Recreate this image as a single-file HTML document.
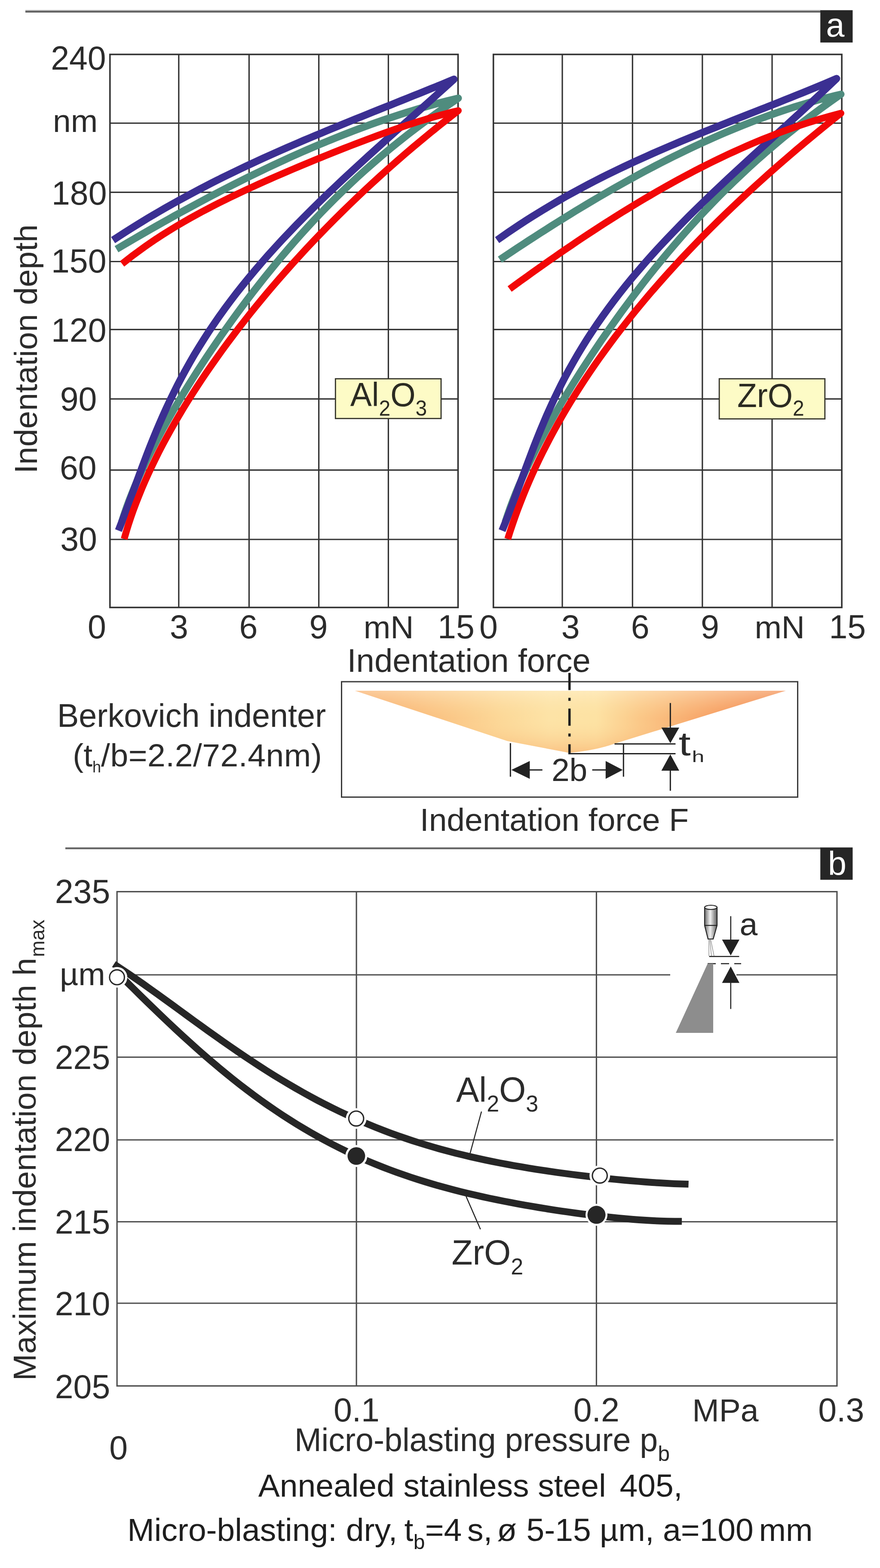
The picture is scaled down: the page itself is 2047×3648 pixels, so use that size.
<!DOCTYPE html>
<html><head><meta charset="utf-8"><title>Figure</title>
<style>html,body{margin:0;padding:0;background:#fff;width:2047px;height:3648px;overflow:hidden}</style>
</head><body>
<svg xmlns="http://www.w3.org/2000/svg" width="2047" height="3648" viewBox="0 0 2047 3648" style="display:block">
<rect width="2047" height="3648" fill="#fff"/>
<rect x="59" y="23.4" width="1850" height="2.8" fill="#9c9c9c"/><rect x="59" y="26.2" width="1850" height="2.8" fill="#474747"/>
<rect x="1908.2" y="23.7" width="75.2" height="75.2" fill="#262626"/>
<text x="1921.6" y="84.5" fill="#fff" style="font-family:'Liberation Sans',Arial,sans-serif;font-size:77px">a</text>
<g stroke="#333" stroke-width="3.2" fill="none"><line x1="415.8" y1="126.6" x2="415.8" y2="1413.3"/><line x1="579.4" y1="126.6" x2="579.4" y2="1413.3"/><line x1="741.6" y1="126.6" x2="741.6" y2="1413.3"/><line x1="903.4" y1="126.6" x2="903.4" y2="1413.3"/><line x1="255.8" y1="286.5" x2="1065.5" y2="286.5"/><line x1="255.8" y1="447.4" x2="1065.5" y2="447.4"/><line x1="255.8" y1="608.5" x2="1065.5" y2="608.5"/><line x1="255.8" y1="766.6" x2="1065.5" y2="766.6"/><line x1="255.8" y1="928.1" x2="1065.5" y2="928.1"/><line x1="255.8" y1="1093.7" x2="1065.5" y2="1093.7"/><line x1="255.8" y1="1255" x2="1065.5" y2="1255"/><rect x="255.8" y="126.6" width="809.7" height="1286.7" fill="none" stroke-width="3.6"/></g>
<g stroke="#333" stroke-width="3.2" fill="none"><line x1="1308" y1="126.6" x2="1308" y2="1413.3"/><line x1="1471.3" y1="126.6" x2="1471.3" y2="1413.3"/><line x1="1633.8" y1="126.6" x2="1633.8" y2="1413.3"/><line x1="1796" y1="126.6" x2="1796" y2="1413.3"/><line x1="1147.7" y1="286.5" x2="1958.1" y2="286.5"/><line x1="1147.7" y1="447.4" x2="1958.1" y2="447.4"/><line x1="1147.7" y1="608.5" x2="1958.1" y2="608.5"/><line x1="1147.7" y1="766.6" x2="1958.1" y2="766.6"/><line x1="1147.7" y1="928.1" x2="1958.1" y2="928.1"/><line x1="1147.7" y1="1093.7" x2="1958.1" y2="1093.7"/><line x1="1147.7" y1="1255" x2="1958.1" y2="1255"/><rect x="1147.7" y="126.6" width="810.4" height="1286.7" fill="none" stroke-width="3.6"/></g>
<path d="M283.0,1215.0 L288.4,1198.3 L294.2,1181.6 L300.3,1164.8 L306.9,1148.1 L313.7,1131.4 L320.9,1114.7 L328.4,1098.0 L336.2,1081.2 L344.2,1064.5 L352.6,1047.8 L361.2,1031.1 L370.0,1014.4 L379.0,997.6 L388.3,980.9 L397.8,964.2 L407.5,947.5 L417.4,930.8 L427.5,914.0 L437.8,897.3 L448.3,880.6 L458.9,863.9 L469.8,847.2 L480.8,830.4 L492.0,813.7 L503.4,797.0 L514.9,780.3 L526.7,763.6 L538.6,746.8 L550.8,730.1 L563.1,713.4 L575.6,696.7 L588.4,679.9 L601.4,663.2 L614.6,646.5 L628.1,629.8 L641.8,613.1 L655.7,596.3 L670.0,579.6 L684.5,562.9 L699.4,546.2 L714.5,529.5 L730.0,512.7 L745.9,496.0 L762.1,479.3 L778.8,462.6 L795.8,445.9 L813.3,429.1 L831.2,412.4 L849.6,395.7 L868.6,379.0 L888.0,362.3 L908.0,345.5 L928.6,328.8 L949.8,312.1 L971.6,295.4 L994.2,278.7 L1017.4,261.9 L1041.3,245.2 L1066.0,228.5 L1052.5,231.8 L1039.1,235.1 L1025.6,238.6 L1012.1,242.2 L998.6,246.0 L985.2,249.8 L971.7,253.7 L958.2,257.8 L944.7,261.9 L931.3,266.2 L917.8,270.6 L904.3,275.1 L890.8,279.6 L877.4,284.3 L863.9,289.1 L850.4,294.0 L836.9,299.0 L823.5,304.0 L810.0,309.2 L796.5,314.5 L783.0,319.8 L769.6,325.3 L756.1,330.8 L742.6,336.4 L729.1,342.1 L715.7,347.9 L702.2,353.8 L688.7,359.8 L675.2,365.8 L661.8,372.0 L648.3,378.2 L634.8,384.5 L621.3,390.9 L607.9,397.3 L594.4,403.8 L580.9,410.4 L567.4,417.1 L554.0,423.8 L540.5,430.6 L527.0,437.5 L513.5,444.5 L500.1,451.5 L486.6,458.6 L473.1,465.7 L459.6,472.9 L446.2,480.2 L432.7,487.5 L419.2,494.9 L405.7,502.3 L392.3,509.8 L378.8,517.4 L365.3,525.0 L351.8,532.7 L338.4,540.4 L324.9,548.2 L311.4,556.0 L297.9,563.8 L284.5,571.7 L271.0,579.7" fill="none" stroke="#4f8c7e" stroke-width="17" stroke-linejoin="round" stroke-linecap="butt"/>
<path d="M275.6,1234.4 L282.5,1216.6 L289.3,1198.8 L296.0,1181.0 L302.5,1163.2 L309.1,1145.4 L315.6,1127.6 L322.1,1109.8 L328.7,1092.0 L335.4,1074.2 L342.2,1056.4 L349.1,1038.6 L356.3,1020.8 L363.6,1003.0 L371.1,985.2 L378.9,967.5 L386.9,949.7 L395.3,931.9 L403.9,914.1 L412.8,896.3 L422.1,878.5 L431.8,860.7 L441.8,842.9 L452.1,825.1 L462.9,807.3 L474.1,789.5 L485.6,771.7 L497.6,753.9 L509.9,736.1 L522.7,718.3 L535.9,700.5 L549.5,682.7 L563.6,664.9 L578.0,647.1 L592.9,629.3 L608.1,611.5 L623.7,593.7 L639.8,575.9 L656.2,558.1 L673.0,540.3 L690.1,522.5 L707.6,504.7 L725.3,486.9 L743.5,469.1 L761.8,451.3 L780.5,433.6 L799.4,415.8 L818.6,398.0 L837.9,380.2 L857.4,362.4 L877.1,344.6 L896.9,326.8 L916.8,309.0 L936.8,291.2 L956.8,273.4 L976.8,255.6 L996.7,237.8 L1016.6,220.0 L1036.4,202.2 L1056.0,184.4 L1042.6,189.9 L1029.1,195.5 L1015.7,201.0 L1002.2,206.4 L988.8,211.9 L975.4,217.3 L961.9,222.7 L948.5,228.1 L935.0,233.5 L921.6,238.9 L908.2,244.3 L894.7,249.7 L881.3,255.0 L867.8,260.4 L854.4,265.8 L840.9,271.3 L827.5,276.7 L814.1,282.1 L800.6,287.6 L787.2,293.1 L773.7,298.6 L760.3,304.2 L746.9,309.8 L733.4,315.4 L720.0,321.0 L706.5,326.7 L693.1,332.5 L679.7,338.3 L666.2,344.1 L652.8,350.0 L639.3,356.0 L625.9,362.0 L612.5,368.1 L599.0,374.2 L585.6,380.5 L572.1,386.8 L558.7,393.1 L545.3,399.6 L531.8,406.1 L518.4,412.7 L504.9,419.4 L491.5,426.2 L478.1,433.1 L464.6,440.1 L451.2,447.2 L437.7,454.4 L424.3,461.7 L410.8,469.1 L397.4,476.6 L384.0,484.2 L370.5,492.0 L357.1,499.8 L343.6,507.8 L330.2,516.0 L316.8,524.2 L303.3,532.6 L289.9,541.1 L276.4,549.8 L263.0,558.6" fill="none" stroke="#3b2f92" stroke-width="17" stroke-linejoin="round" stroke-linecap="butt"/>
<path d="M288.8,1254.0 L293.7,1237.1 L298.9,1220.2 L304.5,1203.3 L310.4,1186.4 L316.7,1169.6 L323.4,1152.7 L330.3,1135.8 L337.6,1118.9 L345.2,1102.0 L353.1,1085.1 L361.3,1068.2 L369.7,1051.3 L378.5,1034.4 L387.6,1017.5 L396.9,1000.7 L406.5,983.8 L416.4,966.9 L426.5,950.0 L436.9,933.1 L447.6,916.2 L458.5,899.3 L469.7,882.4 L481.1,865.5 L492.8,848.6 L504.7,831.8 L516.8,814.9 L529.2,798.0 L541.9,781.1 L554.7,764.2 L567.9,747.3 L581.2,730.4 L594.8,713.5 L608.7,696.6 L622.8,679.7 L637.1,662.9 L651.7,646.0 L666.6,629.1 L681.7,612.2 L697.0,595.3 L712.6,578.4 L728.5,561.5 L744.7,544.6 L761.1,527.7 L777.8,510.8 L794.8,494.0 L812.1,477.1 L829.6,460.2 L847.5,443.3 L865.7,426.4 L884.2,409.5 L903.0,392.6 L922.1,375.7 L941.6,358.8 L961.4,341.9 L981.6,325.1 L1002.1,308.2 L1023.0,291.3 L1044.3,274.4 L1066.0,257.5 L1052.7,260.6 L1039.5,263.9 L1026.2,267.4 L1013.0,271.0 L999.7,274.8 L986.5,278.8 L973.2,282.9 L960.0,287.1 L946.7,291.4 L933.5,295.9 L920.2,300.4 L906.9,305.0 L893.7,309.8 L880.4,314.6 L867.2,319.5 L853.9,324.4 L840.7,329.4 L827.4,334.5 L814.2,339.6 L800.9,344.8 L787.7,350.0 L774.4,355.3 L761.2,360.6 L747.9,366.0 L734.6,371.4 L721.4,376.8 L708.1,382.3 L694.9,387.9 L681.6,393.5 L668.4,399.1 L655.1,404.8 L641.9,410.5 L628.6,416.3 L615.4,422.2 L602.1,428.1 L588.8,434.2 L575.6,440.2 L562.3,446.4 L549.1,452.7 L535.8,459.1 L522.6,465.6 L509.3,472.2 L496.1,478.9 L482.8,485.8 L469.6,492.8 L456.3,500.0 L443.1,507.3 L429.8,514.9 L416.5,522.6 L403.3,530.5 L390.0,538.7 L376.8,547.1 L363.5,555.7 L350.3,564.7 L337.0,573.9 L323.8,583.4 L310.5,593.2 L297.3,603.4 L284.0,613.9" fill="none" stroke="#f20707" stroke-width="16" stroke-linejoin="round" stroke-linecap="butt"/>
<path d="M1175.3,1215.0 L1180.9,1198.1 L1186.8,1181.3 L1193.1,1164.4 L1199.8,1147.5 L1206.8,1130.6 L1214.1,1113.8 L1221.7,1096.9 L1229.6,1080.0 L1237.8,1063.1 L1246.2,1046.3 L1254.8,1029.4 L1263.8,1012.5 L1272.9,995.6 L1282.3,978.8 L1291.8,961.9 L1301.6,945.0 L1311.6,928.1 L1321.7,911.3 L1332.1,894.4 L1342.7,877.5 L1353.4,860.6 L1364.3,843.8 L1375.4,826.9 L1386.7,810.0 L1398.1,793.1 L1409.7,776.3 L1421.6,759.4 L1433.6,742.5 L1445.8,725.6 L1458.2,708.8 L1470.8,691.9 L1483.6,675.0 L1496.6,658.1 L1509.8,641.3 L1523.3,624.4 L1537.1,607.5 L1551.0,590.6 L1565.3,573.8 L1579.8,556.9 L1594.6,540.0 L1609.8,523.1 L1625.2,506.3 L1641.0,489.4 L1657.2,472.5 L1673.7,455.6 L1690.6,438.8 L1707.9,421.9 L1725.7,405.0 L1743.9,388.1 L1762.5,371.3 L1781.7,354.4 L1801.4,337.5 L1821.6,320.6 L1842.5,303.8 L1863.9,286.9 L1885.9,270.0 L1908.6,253.1 L1931.9,236.3 L1956.0,219.4 L1942.6,222.6 L1929.1,225.9 L1915.7,229.3 L1902.2,232.9 L1888.8,236.7 L1875.3,240.6 L1861.9,244.6 L1848.4,248.7 L1835.0,253.0 L1821.6,257.4 L1808.1,262.0 L1794.7,266.6 L1781.2,271.4 L1767.8,276.4 L1754.3,281.4 L1740.9,286.6 L1727.5,291.9 L1714.0,297.3 L1700.6,302.8 L1687.1,308.5 L1673.7,314.3 L1660.2,320.2 L1646.8,326.2 L1633.3,332.3 L1619.9,338.5 L1606.5,344.8 L1593.0,351.2 L1579.6,357.8 L1566.1,364.4 L1552.7,371.2 L1539.2,378.0 L1525.8,384.9 L1512.3,392.0 L1498.9,399.1 L1485.5,406.3 L1472.0,413.7 L1458.6,421.1 L1445.1,428.6 L1431.7,436.2 L1418.2,443.9 L1404.8,451.6 L1391.3,459.5 L1377.9,467.4 L1364.5,475.4 L1351.0,483.5 L1337.6,491.6 L1324.1,499.9 L1310.7,508.2 L1297.2,516.6 L1283.8,525.0 L1270.4,533.6 L1256.9,542.2 L1243.5,550.8 L1230.0,559.5 L1216.6,568.3 L1203.1,577.2 L1189.7,586.1 L1176.2,595.1 L1162.8,604.1" fill="none" stroke="#4f8c7e" stroke-width="17" stroke-linejoin="round" stroke-linecap="butt"/>
<path d="M1167.9,1234.4 L1175.2,1216.6 L1182.2,1198.8 L1189.1,1180.9 L1195.8,1163.1 L1202.4,1145.3 L1208.9,1127.5 L1215.5,1109.6 L1222.0,1091.8 L1228.7,1074.0 L1235.4,1056.2 L1242.2,1038.3 L1249.2,1020.5 L1256.4,1002.7 L1263.8,984.9 L1271.4,967.0 L1279.4,949.2 L1287.6,931.4 L1296.1,913.6 L1304.9,895.7 L1314.1,877.9 L1323.7,860.1 L1333.7,842.3 L1344.0,824.5 L1354.8,806.6 L1365.9,788.8 L1377.5,771.0 L1389.5,753.2 L1402.0,735.3 L1414.9,717.5 L1428.2,699.7 L1441.9,681.9 L1456.1,664.0 L1470.7,646.2 L1485.8,628.4 L1501.2,610.6 L1517.1,592.7 L1533.3,574.9 L1550.0,557.1 L1567.0,539.3 L1584.3,521.5 L1602.0,503.6 L1620.0,485.8 L1638.2,468.0 L1656.8,450.2 L1675.6,432.3 L1694.6,414.5 L1713.8,396.7 L1733.1,378.9 L1752.6,361.0 L1772.2,343.2 L1791.8,325.4 L1811.4,307.6 L1831.0,289.7 L1850.6,271.9 L1870.1,254.1 L1889.4,236.3 L1908.5,218.4 L1927.4,200.6 L1946.0,182.8 L1932.6,188.5 L1919.2,194.2 L1905.8,199.8 L1892.5,205.3 L1879.1,210.8 L1865.7,216.3 L1852.3,221.7 L1838.9,227.1 L1825.5,232.4 L1812.2,237.8 L1798.8,243.1 L1785.4,248.4 L1772.0,253.7 L1758.6,258.9 L1745.2,264.2 L1731.8,269.5 L1718.5,274.7 L1705.1,280.0 L1691.7,285.3 L1678.3,290.6 L1664.9,296.0 L1651.5,301.3 L1638.2,306.7 L1624.8,312.2 L1611.4,317.6 L1598.0,323.1 L1584.6,328.7 L1571.2,334.3 L1557.8,340.0 L1544.5,345.7 L1531.1,351.5 L1517.7,357.4 L1504.3,363.4 L1490.9,369.4 L1477.5,375.5 L1464.1,381.7 L1450.8,388.0 L1437.4,394.4 L1424.0,400.9 L1410.6,407.4 L1397.2,414.2 L1383.8,421.0 L1370.5,427.9 L1357.1,435.0 L1343.7,442.2 L1330.3,449.5 L1316.9,456.9 L1303.5,464.5 L1290.1,472.3 L1276.8,480.2 L1263.4,488.2 L1250.0,496.4 L1236.6,504.8 L1223.2,513.3 L1209.8,522.0 L1196.5,530.9 L1183.1,539.9 L1169.7,549.2 L1156.3,558.6" fill="none" stroke="#3b2f92" stroke-width="17" stroke-linejoin="round" stroke-linecap="butt"/>
<path d="M1181.1,1254.0 L1186.4,1237.2 L1192.0,1220.4 L1197.8,1203.6 L1203.9,1186.8 L1210.3,1170.1 L1216.9,1153.3 L1223.8,1136.5 L1231.0,1119.7 L1238.4,1102.9 L1246.1,1086.1 L1254.0,1069.3 L1262.3,1052.5 L1270.8,1035.8 L1279.5,1019.0 L1288.6,1002.2 L1297.9,985.4 L1307.4,968.6 L1317.3,951.8 L1327.4,935.0 L1337.8,918.2 L1348.5,901.4 L1359.4,884.7 L1370.6,867.9 L1382.1,851.1 L1393.8,834.3 L1405.9,817.5 L1418.2,800.7 L1430.7,783.9 L1443.6,767.1 L1456.7,750.4 L1470.1,733.6 L1483.8,716.8 L1497.7,700.0 L1511.9,683.2 L1526.4,666.4 L1541.2,649.6 L1556.2,632.8 L1571.5,616.1 L1587.1,599.3 L1603.0,582.5 L1619.1,565.7 L1635.5,548.9 L1652.2,532.1 L1669.2,515.3 L1686.4,498.5 L1703.9,481.7 L1721.6,465.0 L1739.7,448.2 L1758.0,431.4 L1776.6,414.6 L1795.4,397.8 L1814.6,381.0 L1834.0,364.2 L1853.6,347.4 L1873.6,330.7 L1893.8,313.9 L1914.2,297.1 L1935.0,280.3 L1956.0,263.5 L1942.9,266.9 L1929.9,270.4 L1916.8,274.1 L1903.8,278.0 L1890.7,282.0 L1877.6,286.1 L1864.6,290.4 L1851.5,294.8 L1838.5,299.4 L1825.4,304.1 L1812.3,309.0 L1799.3,314.0 L1786.2,319.1 L1773.2,324.3 L1760.1,329.7 L1747.1,335.2 L1734.0,340.9 L1720.9,346.7 L1707.9,352.6 L1694.8,358.6 L1681.8,364.7 L1668.7,371.0 L1655.6,377.4 L1642.6,383.9 L1629.5,390.5 L1616.5,397.2 L1603.4,404.1 L1590.3,411.0 L1577.3,418.1 L1564.2,425.3 L1551.2,432.5 L1538.1,439.9 L1525.0,447.4 L1512.0,455.0 L1498.9,462.7 L1485.9,470.4 L1472.8,478.3 L1459.7,486.3 L1446.7,494.3 L1433.6,502.5 L1420.6,510.7 L1407.5,519.1 L1394.4,527.5 L1381.4,536.0 L1368.3,544.5 L1355.3,553.2 L1342.2,561.9 L1329.2,570.8 L1316.1,579.7 L1303.0,588.6 L1290.0,597.7 L1276.9,606.8 L1263.9,616.0 L1250.8,625.2 L1237.7,634.5 L1224.7,643.9 L1211.6,653.3 L1198.6,662.8 L1185.5,672.4" fill="none" stroke="#f20707" stroke-width="16" stroke-linejoin="round" stroke-linecap="butt"/>
<rect x="780.3" y="881.2" width="245.7" height="92.5" fill="#fdfbc6" stroke="#34342a" stroke-width="2.8"/>
<text x="814.8" y="944.7" transform="matrix(1 0 0 1.03 0 -28.34)" fill="#2b2b22" style="font-family:'Liberation Sans',Arial,sans-serif;font-size:75px">Al<tspan dy="21.5" style="font-size:48px">2</tspan><tspan dy="-21.5">O</tspan><tspan dy="21.5" style="font-size:48px">3</tspan></text>
<rect x="1673.1" y="881.2" width="245.7" height="93.4" fill="#fdfbc6" stroke="#34342a" stroke-width="2.8"/>
<text x="1715.0" y="946.6" transform="matrix(1 0 0 1.03 0 -28.40)" fill="#2b2b22" style="font-family:'Liberation Sans',Arial,sans-serif;font-size:75px">ZrO<tspan dy="20" style="font-size:48px">2</tspan></text>
<text x="118.2" y="161.5" fill="#2b2b2b" style="font-family:'Liberation Sans',Arial,sans-serif;font-size:77px">240</text>
<text x="120.0" y="476.0" fill="#2b2b2b" style="font-family:'Liberation Sans',Arial,sans-serif;font-size:77px">180</text>
<text x="119.0" y="633.5" fill="#2b2b2b" style="font-family:'Liberation Sans',Arial,sans-serif;font-size:77px">150</text>
<text x="119.0" y="794.5" fill="#2b2b2b" style="font-family:'Liberation Sans',Arial,sans-serif;font-size:77px">120</text>
<text x="139.7" y="955.3" fill="#2b2b2b" style="font-family:'Liberation Sans',Arial,sans-serif;font-size:77px">90</text>
<text x="138.9" y="1114.5" fill="#2b2b2b" style="font-family:'Liberation Sans',Arial,sans-serif;font-size:77px">60</text>
<text x="140.2" y="1280.5" fill="#2b2b2b" style="font-family:'Liberation Sans',Arial,sans-serif;font-size:77px">30</text>
<text x="123.1" y="306.5" fill="#2b2b2b" style="font-family:'Liberation Sans',Arial,sans-serif;font-size:75px">nm</text>
<text transform="translate(85.6,1101.8) rotate(-90)" fill="#2b2b2b" style="font-family:'Liberation Sans',Arial,sans-serif;font-size:75px">Indentation depth</text>
<text x="204.0" y="1485.0" fill="#2b2b2b" style="font-family:'Liberation Sans',Arial,sans-serif;font-size:77px">0</text>
<text x="395.0" y="1485.0" fill="#2b2b2b" style="font-family:'Liberation Sans',Arial,sans-serif;font-size:77px">3</text>
<text x="556.5" y="1485.0" fill="#2b2b2b" style="font-family:'Liberation Sans',Arial,sans-serif;font-size:77px">6</text>
<text x="719.5" y="1485.0" fill="#2b2b2b" style="font-family:'Liberation Sans',Arial,sans-serif;font-size:77px">9</text>
<text x="845.8" y="1485.0" fill="#2b2b2b" style="font-family:'Liberation Sans',Arial,sans-serif;font-size:75px">mN</text>
<text x="1018.1" y="1485.0" fill="#2b2b2b" style="font-family:'Liberation Sans',Arial,sans-serif;font-size:77px">15</text>
<text x="1115.1" y="1485.0" fill="#2b2b2b" style="font-family:'Liberation Sans',Arial,sans-serif;font-size:77px">0</text>
<text x="1305.8" y="1485.0" fill="#2b2b2b" style="font-family:'Liberation Sans',Arial,sans-serif;font-size:77px">3</text>
<text x="1467.7" y="1485.0" fill="#2b2b2b" style="font-family:'Liberation Sans',Arial,sans-serif;font-size:77px">6</text>
<text x="1630.1" y="1485.0" fill="#2b2b2b" style="font-family:'Liberation Sans',Arial,sans-serif;font-size:77px">9</text>
<text x="1755.4" y="1485.0" fill="#2b2b2b" style="font-family:'Liberation Sans',Arial,sans-serif;font-size:75px">mN</text>
<text x="1928.5" y="1485.0" fill="#2b2b2b" style="font-family:'Liberation Sans',Arial,sans-serif;font-size:77px">15</text>
<text x="807.5" y="1562.5" fill="#2b2b2b" style="font-family:'Liberation Sans',Arial,sans-serif;font-size:76px">Indentation force</text>
<text x="132.9" y="1690.5" fill="#2b2b2b" style="font-family:'Liberation Sans',Arial,sans-serif;font-size:75.5px">Berkovich indenter</text>
<text x="169.2" y="1782.5" fill="#2b2b2b" style="font-family:'Liberation Sans',Arial,sans-serif;font-size:75px">(t<tspan dy="14" style="font-size:36px">h</tspan><tspan dy="-14" style="letter-spacing:0.55px">/b=2.2/72.4nm)</tspan></text>
<rect x="794.5" y="1586" width="1061" height="268.5" fill="none" stroke="#3a3a3a" stroke-width="3"/>
<defs>
<linearGradient id="ind" x1="826" y1="0" x2="1828" y2="0" gradientUnits="userSpaceOnUse">
<stop offset="0" stop-color="#f8a565"/><stop offset="0.17" stop-color="#fac080"/><stop offset="0.34" stop-color="#fcd898"/><stop offset="0.45" stop-color="#fde3a6"/><stop offset="0.56" stop-color="#fde2a3"/><stop offset="0.66" stop-color="#fbc888"/><stop offset="0.82" stop-color="#f7a266"/><stop offset="1" stop-color="#f07840"/>
</linearGradient>
<linearGradient id="indv" x1="0" y1="1607" x2="0" y2="1751" gradientUnits="userSpaceOnUse">
<stop offset="0" stop-color="#fff4d8" stop-opacity="0.45"/><stop offset="0.45" stop-color="#fde0a0" stop-opacity="0"/><stop offset="1" stop-color="#f48a48" stop-opacity="0.35"/>
</linearGradient>
</defs>
<path d="M826,1607 L1827.6,1607 L1430,1730 Q1385,1746 1324,1751.5 L1180,1724 Z" fill="url(#ind)"/>
<path d="M826,1607 L1827.6,1607 L1430,1730 Q1385,1746 1324,1751.5 L1180,1724 Z" fill="url(#indv)"/>
<line x1="1324.7" y1="1565.4" x2="1324.7" y2="1754" stroke="#1e1e1e" stroke-width="5.5" stroke-dasharray="40,18,7,18"/>
<g stroke="#222" stroke-width="3" fill="none"><line x1="1322" y1="1753.5" x2="1571.4" y2="1753.5"/><line x1="1429.5" y1="1730.7" x2="1571.4" y2="1730.7"/><line x1="1187.3" y1="1729" x2="1187.3" y2="1807"/><line x1="1450.3" y1="1730.7" x2="1450.3" y2="1807"/><line x1="1559.3" y1="1635.6" x2="1559.3" y2="1700"/><line x1="1559.3" y1="1785" x2="1559.3" y2="1839.7"/><line x1="1225" y1="1791.3" x2="1261.7" y2="1791.3"/><line x1="1377.6" y1="1791.3" x2="1412" y2="1791.3"/></g>
<g fill="#222"><path d="M1189.5,1791.3 L1232.3,1770.5 L1232.3,1812 Z"/><path d="M1448.5,1791.3 L1408.8,1770.5 L1408.8,1812 Z"/><path d="M1559.3,1729 L1538.5,1692.7 L1580,1692.7 Z"/><path d="M1559.3,1755 L1538.5,1793 L1580,1793 Z"/></g>
<text x="1282.9" y="1817.0" fill="#2b2b2b" style="font-family:'Liberation Sans',Arial,sans-serif;font-size:75px">2b</text>
<text transform="translate(1578.5,1757) scale(1.3,1)" fill="#2b2b2b" style="font-family:'Liberation Sans',Arial,sans-serif;font-size:78px">t</text>
<text transform="translate(1609.5,1772.5) scale(1.4,1)" fill="#2b2b2b" style="font-family:'Liberation Sans',Arial,sans-serif;font-size:37px">h</text>
<text x="976.8" y="1933.0" fill="#2b2b2b" style="font-family:'Liberation Sans',Arial,sans-serif;font-size:75px">Indentation force F</text>
<line x1="152" y1="1973.7" x2="1909" y2="1973.7" stroke="#646464" stroke-width="4.2"/>
<rect x="1908.2" y="1971.6" width="75.2" height="75.2" fill="#262626"/>
<text x="1926.1" y="2036.0" fill="#fff" style="font-family:'Liberation Sans',Arial,sans-serif;font-size:77px">b</text>
<g stroke="#4d4d4d" stroke-width="3.2" fill="none"><line x1="829.1" y1="2074.5" x2="829.1" y2="3224.4"/><line x1="1387.4" y1="2074.5" x2="1387.4" y2="3224.4"/><line x1="272.2" y1="2268" x2="1559" y2="2268"/><line x1="1713" y1="2268" x2="1946.9" y2="2268"/><line x1="272.2" y1="2459.5" x2="1946.9" y2="2459.5"/><line x1="272.2" y1="2652" x2="1939" y2="2652"/><line x1="272.2" y1="2842.5" x2="1946.9" y2="2842.5"/><line x1="272.2" y1="3032" x2="1946.9" y2="3032"/><rect x="272.2" y="2074.5" width="1674.7" height="1149.9" fill="none"/></g>
<path d="M265.0,2243.0 L281.9,2254.1 L298.8,2265.4 L315.8,2277.1 L332.7,2288.9 L349.6,2300.9 L366.5,2313.0 L383.4,2325.3 L400.4,2337.6 L417.3,2349.9 L434.2,2362.3 L451.1,2374.6 L468.0,2386.8 L484.9,2399.0 L501.9,2411.1 L518.8,2423.0 L535.7,2434.8 L552.6,2446.4 L569.5,2457.9 L586.5,2469.2 L603.4,2480.2 L620.3,2491.1 L637.2,2501.7 L654.1,2512.0 L671.1,2522.2 L688.0,2532.0 L704.9,2541.6 L721.8,2551.0 L738.7,2560.1 L755.7,2568.9 L772.6,2577.4 L789.5,2585.6 L806.4,2593.6 L823.3,2601.3 L840.2,2608.8 L857.2,2615.9 L874.1,2622.8 L891.0,2629.5 L907.9,2635.9 L924.8,2642.0 L941.8,2647.9 L958.7,2653.6 L975.6,2659.0 L992.5,2664.2 L1009.4,2669.2 L1026.4,2674.0 L1043.3,2678.5 L1060.2,2682.9 L1077.1,2687.1 L1094.0,2691.1 L1110.9,2694.9 L1127.9,2698.6 L1144.8,2702.1 L1161.7,2705.5 L1178.6,2708.7 L1195.5,2711.8 L1212.5,2714.7 L1229.4,2717.6 L1246.3,2720.3 L1263.2,2722.9 L1280.1,2725.4 L1297.1,2727.8 L1314.0,2730.1 L1330.9,2732.4 L1347.8,2734.5 L1364.7,2736.5 L1381.7,2738.5 L1398.6,2740.4 L1415.5,2742.2 L1432.4,2743.9 L1449.3,2745.5 L1466.2,2747.0 L1483.2,2748.4 L1500.1,2749.8 L1517.0,2751.0 L1533.9,2752.1 L1550.8,2753.0 L1567.8,2753.9 L1584.7,2754.5 L1601.6,2755.1" fill="none" stroke="#262626" stroke-width="16"/>
<path d="M276.0,2266.0 L292.6,2282.5 L309.2,2298.9 L325.7,2315.2 L342.3,2331.4 L358.9,2347.5 L375.5,2363.5 L392.1,2379.2 L408.7,2394.8 L425.2,2410.1 L441.8,2425.2 L458.4,2440.1 L475.0,2454.7 L491.6,2469.0 L508.2,2483.0 L524.7,2496.7 L541.3,2510.1 L557.9,2523.2 L574.5,2535.9 L591.1,2548.3 L607.6,2560.4 L624.2,2572.1 L640.8,2583.5 L657.4,2594.6 L674.0,2605.3 L690.6,2615.7 L707.1,2625.7 L723.7,2635.4 L740.3,2644.8 L756.9,2653.8 L773.5,2662.5 L790.1,2670.9 L806.6,2679.0 L823.2,2686.8 L839.8,2694.3 L856.4,2701.5 L873.0,2708.4 L889.5,2715.0 L906.1,2721.4 L922.7,2727.5 L939.3,2733.3 L955.9,2739.0 L972.5,2744.4 L989.0,2749.5 L1005.6,2754.5 L1022.2,2759.3 L1038.8,2763.8 L1055.4,2768.2 L1071.9,2772.4 L1088.5,2776.5 L1105.1,2780.3 L1121.7,2784.1 L1138.3,2787.7 L1154.9,2791.1 L1171.4,2794.5 L1188.0,2797.7 L1204.6,2800.8 L1221.2,2803.8 L1237.8,2806.7 L1254.4,2809.5 L1270.9,2812.2 L1287.5,2814.8 L1304.1,2817.3 L1320.7,2819.7 L1337.3,2822.0 L1353.8,2824.2 L1370.4,2826.3 L1387.0,2828.3 L1403.6,2830.2 L1420.2,2832.0 L1436.8,2833.7 L1453.3,2835.2 L1469.9,2836.7 L1486.5,2837.9 L1503.1,2839.0 L1519.7,2840.0 L1536.3,2840.7 L1552.8,2841.2 L1569.4,2841.5 L1586.0,2841.6" fill="none" stroke="#262626" stroke-width="16"/>
<line x1="1093.6" y1="2683" x2="1120" y2="2586" stroke="#262626" stroke-width="2.5"/>
<line x1="1084" y1="2783" x2="1117.6" y2="2860" stroke="#262626" stroke-width="2.5"/>
<circle cx="272.1" cy="2273.7" r="24" fill="#fff"/>
<circle cx="272.1" cy="2273.7" r="17.3" fill="#fff" stroke="#262626" stroke-width="3.1"/>
<circle cx="828.6" cy="2602.3" r="24" fill="#fff"/>
<circle cx="828.6" cy="2602.3" r="17.3" fill="#fff" stroke="#262626" stroke-width="3.1"/>
<circle cx="1395.2" cy="2735.1" r="24" fill="#fff"/>
<circle cx="1395.2" cy="2735.1" r="17.3" fill="#fff" stroke="#262626" stroke-width="3.1"/>
<circle cx="828.9" cy="2689.5" r="25.5" fill="#fff"/>
<circle cx="828.9" cy="2689.5" r="20.5" fill="#262626"/>
<circle cx="1387.5" cy="2826.3" r="25.5" fill="#fff"/>
<circle cx="1387.5" cy="2826.3" r="21" fill="#262626"/>
<text x="1061.0" y="2563.0" transform="matrix(1 0 0 1.03 0 -76.89)" fill="#2b2b2b" style="font-family:'Liberation Sans',Arial,sans-serif;font-size:80px">Al<tspan dy="22" style="font-size:52px">2</tspan><tspan dy="-22">O</tspan><tspan dy="22" style="font-size:52px">3</tspan></text>
<text x="1050.6" y="2942.0" transform="matrix(1 0 0 1.03 0 -88.26)" fill="#2b2b2b" style="font-family:'Liberation Sans',Arial,sans-serif;font-size:80px">ZrO<tspan dy="22" style="font-size:52px">2</tspan></text>
<defs><linearGradient id="noz" x1="0" y1="0" x2="1" y2="0"><stop offset="0" stop-color="#6a6a6a"/><stop offset="0.45" stop-color="#f2f2f2"/><stop offset="1" stop-color="#5a5a5a"/></linearGradient></defs>
<path d="M1639,2111 L1639,2153 L1647,2184.6 L1659,2184.6 L1668,2153 L1668,2111 Z" fill="url(#noz)" stroke="#222" stroke-width="2.2"/>
<ellipse cx="1653.5" cy="2111" rx="14.5" ry="5" fill="#f4f4f4" stroke="#222" stroke-width="2.2"/>
<line x1="1639" y1="2153" x2="1668" y2="2153" stroke="#222" stroke-width="2.2"/>
<g stroke="#777" stroke-width="1.2"><line x1="1649" y1="2185" x2="1649" y2="2224"/><line x1="1653" y1="2185" x2="1661" y2="2224"/><line x1="1651" y1="2185" x2="1655" y2="2224"/></g>
<line x1="1649.6" y1="2225.3" x2="1719.4" y2="2225.3" stroke="#222" stroke-width="2.5"/>
<line x1="1646" y1="2242" x2="1724" y2="2242" stroke="#222" stroke-width="2.5" stroke-dasharray="19,12"/>
<path d="M1646,2242 L1659,2242 L1659,2403 L1572,2403 Z" fill="#8d8d8d"/>
<g stroke="#222" stroke-width="2.5"><line x1="1699.8" y1="2131.5" x2="1699.8" y2="2190"/><line x1="1699.8" y1="2280" x2="1699.8" y2="2347.4"/></g>
<g fill="#222"><path d="M1679.5,2186 L1720,2186 L1699.8,2223 Z"/><path d="M1679.5,2286.8 L1720,2286.8 L1699.8,2248.6 Z"/></g>
<text x="1720.5" y="2176.0" fill="#2b2b2b" style="font-family:'Liberation Sans',Arial,sans-serif;font-size:75px">a</text>
<text x="127.8" y="2100.8" fill="#2b2b2b" style="font-family:'Liberation Sans',Arial,sans-serif;font-size:77px">235</text>
<text x="127.8" y="2487.0" fill="#2b2b2b" style="font-family:'Liberation Sans',Arial,sans-serif;font-size:77px">225</text>
<text x="127.8" y="2677.5" fill="#2b2b2b" style="font-family:'Liberation Sans',Arial,sans-serif;font-size:77px">220</text>
<text x="127.8" y="2869.8" fill="#2b2b2b" style="font-family:'Liberation Sans',Arial,sans-serif;font-size:77px">215</text>
<text x="127.8" y="3059.6" fill="#2b2b2b" style="font-family:'Liberation Sans',Arial,sans-serif;font-size:77px">210</text>
<text x="127.8" y="3253.4" fill="#2b2b2b" style="font-family:'Liberation Sans',Arial,sans-serif;font-size:77px">205</text>
<text x="139.0" y="2292.0" fill="#2b2b2b" style="font-family:'Liberation Sans',Arial,sans-serif;font-size:75px">µm</text>
<text transform="translate(83.4,3212.3) rotate(-90)" fill="#2b2b2b" style="font-family:'Liberation Sans',Arial,sans-serif;font-size:75px">Maximum indentation depth h<tspan dx="2" dy="19.8" style="font-size:46px">max</tspan></text>
<text x="775.9" y="3307.0" fill="#2b2b2b" style="font-family:'Liberation Sans',Arial,sans-serif;font-size:77px">0.1</text>
<text x="1333.8" y="3307.0" fill="#2b2b2b" style="font-family:'Liberation Sans',Arial,sans-serif;font-size:77px">0.2</text>
<text x="1610.2" y="3307.0" fill="#2b2b2b" style="font-family:'Liberation Sans',Arial,sans-serif;font-size:75px">MPa</text>
<text x="1903.2" y="3307.0" fill="#2b2b2b" style="font-family:'Liberation Sans',Arial,sans-serif;font-size:77px">0.3</text>
<text x="254.3" y="3395.2" fill="#2b2b2b" style="font-family:'Liberation Sans',Arial,sans-serif;font-size:77px">0</text>
<text x="684.9" y="3375.8" fill="#2b2b2b" style="font-family:'Liberation Sans',Arial,sans-serif;font-size:75.3px">Micro-blasting pressure p<tspan dy="23" style="font-size:50px">b</tspan></text>
<text x="600.8" y="3482.3" fill="#1e1e1e" style="font-family:'Liberation Sans',Arial,sans-serif;font-size:75px">Annealed stainless steel</text>
<text x="1441.5" y="3482.3" fill="#1e1e1e" style="font-family:'Liberation Sans',Arial,sans-serif;font-size:75px">405,</text>
<text x="296.3" y="3584.5" fill="#1e1e1e" style="font-family:'Liberation Sans',Arial,sans-serif;font-size:75px">Micro-blasting: dry,</text>
<text x="940.4" y="3584.5" fill="#1e1e1e" style="font-family:'Liberation Sans',Arial,sans-serif;font-size:75px">t</text>
<text x="961.8" y="3603.5" fill="#1e1e1e" style="font-family:'Liberation Sans',Arial,sans-serif;font-size:48px">b</text>
<text x="988.8" y="3584.5" fill="#1e1e1e" style="font-family:'Liberation Sans',Arial,sans-serif;font-size:75px">=4</text>
<text x="1087.0" y="3584.5" fill="#1e1e1e" style="font-family:'Liberation Sans',Arial,sans-serif;font-size:75px">s,</text>
<text x="1156.3" y="3584.5" fill="#1e1e1e" style="font-family:'Liberation Sans',Arial,sans-serif;font-size:75px">ø</text>
<text x="1224.5" y="3584.5" fill="#1e1e1e" style="font-family:'Liberation Sans',Arial,sans-serif;font-size:75px">5-15</text>
<text x="1395.0" y="3584.5" fill="#1e1e1e" style="font-family:'Liberation Sans',Arial,sans-serif;font-size:75px">µm,</text>
<text x="1542.0" y="3584.5" fill="#1e1e1e" style="font-family:'Liberation Sans',Arial,sans-serif;font-size:75px">a=100</text>
<text x="1765.5" y="3584.5" fill="#1e1e1e" style="font-family:'Liberation Sans',Arial,sans-serif;font-size:75px">mm</text>
</svg>
</body></html>
